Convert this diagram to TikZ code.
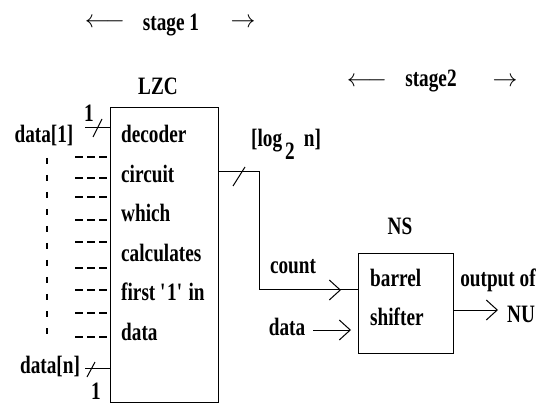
\documentclass[tikz,border=0pt]{standalone}
\usepackage{fontspec}
\setmainfont{Liberation Serif}[FakeStretch=0.77,UprightFont=*-Bold]
\usepackage{tikz}
\usetikzlibrary{positioning,arrows.meta,calc}

\begin{document}
\begin{tikzpicture}[x=1pt,y=-1pt,
  txt/.style={font=\fontsize{25}{25}\selectfont,inner sep=0pt},
  blk/.style={draw,line width=1pt,inner sep=0pt,anchor=north west},
  sig/.style={line width=1pt},
  arr/.style={sig,-{Straight Barb[length=11pt,width=20pt]}}]
\useasboundingbox (0,0) rectangle (546,403);
% stage headers
\node[txt] (s1l) at (105,23) {$\longleftarrow$};
\node[txt,anchor=base] (s1) at (171,31) {stage 1};
\node[txt] (s1r) at (243,23) {$\rightarrow$};
\node[txt] (s2l) at (367,82) {$\longleftarrow$};
\node[txt,anchor=base] (s2) at (431,87) {stage2};
\node[txt] (s2r) at (505,82) {$\rightarrow$};
% LZC block
\node[txt,anchor=base] (lzclbl) at (158,95) {LZC};
\node[blk,minimum width=108pt,minimum height=295pt] (lzc) at (110,107) {};
\foreach \t [count=\i] in {decoder,circuit,which,calculates,first \textquotesingle1\textquotesingle\ in,data}
  \node[txt,anchor=base west] (lzc-\i) at (121,{143+39.4*(\i-1)}) {\t};
% inputs
\node[txt,anchor=base] (d1) at (44,143) {data[1]};
\node[txt,anchor=base] (d1w) at (89,122) {1};
\coordinate (d1in) at (85,128);
\draw[sig] (d1in) -- (lzc.west |- d1in);
\draw[sig] (93,137) -- (102,119);
\node[txt,anchor=base] (dn) at (50,373) {data[n]};
\node[txt,anchor=base] (dnw) at (96,399) {1};
\coordinate (dnin) at (85,368);
\draw[sig] (dnin) -- (lzc.west |- dnin);
\draw[sig] (87,377) -- (95,362);
% elided inputs
\foreach \y in {157,178,197,220,242,268,290,313,337}
  \draw[line width=2.4pt,dash pattern=on 8pt off 4pt] (75,\y) -- (107,\y);
\draw[line width=2pt,dash pattern=on 6pt off 11pt] (47,158) -- (47,343);
% count path
\coordinate (bend1) at (259,172);
\coordinate (bend2) at (259,290);
\coordinate (cnt) at (341,290);
\node[txt,anchor=base west] (loglbl) at (251,147) {[log\hspace{3pt}\raisebox{-13pt}{2}\hspace{9pt}n]};
\draw[sig] (lzc.east |- bend1) -- (bend1) -- (bend2) -- (cnt);
\draw[arr] (bend2) -- (cnt);
\draw[sig] (233,186) -- (245,167);
% NS block
\node[txt,anchor=base] (nslbl) at (400,235) {NS};
\node[blk,minimum width=95pt,minimum height=100pt] (ns) at (358,253) {};
\draw[sig] (cnt) -- (ns.west |- cnt);
\node[txt,anchor=base west] (ns-1) at (370,287) {barrel};
\node[txt,anchor=base west] (ns-2) at (370,325) {shifter};
\node[txt,anchor=base] (cntlbl) at (293,273) {count};
\node[txt,anchor=base] (datlbl) at (287,335) {data};
\coordinate (din) at (313,330);
\draw[arr,shorten >=7pt] (din) -- (ns.west |- din);
% output
\coordinate (nuo) at (498,310);
\draw[arr] (ns.east |- nuo) -- (nuo);
\node[txt,anchor=base] (outlbl) at (498,287) {output of};
\node[txt,anchor=base west] (nulbl) at (507,323) {NU};
\end{tikzpicture}
\end{document}
